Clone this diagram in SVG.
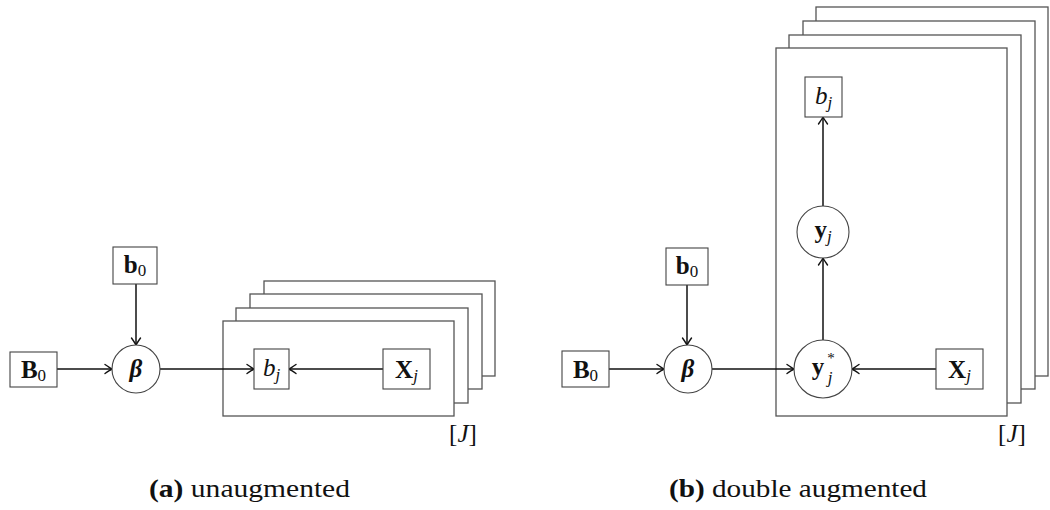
<svg xmlns="http://www.w3.org/2000/svg" width="1050" height="510" viewBox="0 0 1050 510">
<defs>
<marker id="arr" markerUnits="userSpaceOnUse" markerWidth="12" markerHeight="12" viewBox="-8 -6 10 12" refX="0" refY="0" orient="auto">
<path d="M-7,-4.5 Q-2,-1 0,0 Q-2,1 -7,4.5" fill="none" stroke="#111" stroke-width="1.4" stroke-linecap="round"/>
</marker>
</defs>
<style>
.plate{fill:#fff;stroke:#555;stroke-width:1.3}
.node{fill:#fff;stroke:#444;stroke-width:1.1}
.edge{stroke:#111;stroke-width:1.5;fill:none}
.m{font-family:"Liberation Serif","Times New Roman",serif;font-size:25px;fill:#111;text-anchor:middle}
.b{font-weight:bold}
.i{font-style:italic}
.sub{font-size:17px}
.sup{font-size:15px}
.cap{font-family:"Liberation Serif","Times New Roman",serif;font-size:25px;fill:#111}
</style>
<rect width="1050" height="510" fill="#fff"/>

<!-- Panel (a) plates -->
<g id="plate-a">
<rect class="plate" x="264" y="281" width="231" height="95"/>
<rect class="plate" x="250" y="294" width="232" height="95"/>
<rect class="plate" x="236" y="308" width="232" height="95"/>
<rect class="plate" x="223" y="321" width="231" height="95"/>
<text class="m" x="463" y="442"><tspan>[</tspan><tspan class="i">J</tspan><tspan>]</tspan></text>
</g>

<!-- Panel (b) plates -->
<g id="plate-b">
<rect class="plate" x="816" y="7" width="232" height="369"/>
<rect class="plate" x="803" y="21" width="232" height="368"/>
<rect class="plate" x="789" y="35" width="232" height="368"/>
<rect class="plate" x="776" y="48" width="231" height="368"/>
<text class="m" x="1012" y="442"><tspan>[</tspan><tspan class="i">J</tspan><tspan>]</tspan></text>
</g>

<g id="connectors">
<line class="edge" x1="57" y1="369" x2="112" y2="369" marker-end="url(#arr)"/>
<line class="edge" x1="136" y1="284" x2="136" y2="345" marker-end="url(#arr)"/>
<line class="edge" x1="160" y1="369" x2="254" y2="369" marker-end="url(#arr)"/>
<line class="edge" x1="383" y1="369" x2="289" y2="369" marker-end="url(#arr)"/>

<line class="edge" x1="609" y1="369" x2="664" y2="369" marker-end="url(#arr)"/>
<line class="edge" x1="687" y1="285" x2="687" y2="345" marker-end="url(#arr)"/>
<line class="edge" x1="712" y1="369" x2="794" y2="369" marker-end="url(#arr)"/>
<line class="edge" x1="936" y1="369" x2="852" y2="369" marker-end="url(#arr)"/>
<line class="edge" x1="823" y1="340" x2="823" y2="258" marker-end="url(#arr)"/>
<line class="edge" x1="823" y1="206" x2="823" y2="117" marker-end="url(#arr)"/>
</g>

<!-- Panel (a) nodes -->
<g id="a-B0">
<rect class="node" x="10" y="352" width="47" height="35"/>
<text class="m" x="33.5" y="378"><tspan class="b">B</tspan><tspan class="sub" dy="3">0</tspan></text>
</g>
<g id="a-b0">
<rect class="node" x="113" y="247" width="44" height="37"/>
<text class="m" x="135" y="273"><tspan class="b">b</tspan><tspan class="sub" dy="3">0</tspan></text>
</g>
<g id="a-beta">
<circle class="node" cx="136" cy="369" r="24"/>
<text class="m b i" x="136" y="377">β</text>
</g>
<g id="a-bj">
<rect class="node" x="254" y="349" width="35" height="40"/>
<text class="m" x="271.5" y="376"><tspan class="i">b</tspan><tspan class="sub i" dy="4">j</tspan></text>
</g>
<g id="a-Xj">
<rect class="node" x="383" y="349" width="47" height="40"/>
<text class="m" x="406.5" y="378"><tspan class="b">X</tspan><tspan class="sub i" dy="3">j</tspan></text>
</g>

<!-- Panel (b) nodes -->
<g id="b-B0">
<rect class="node" x="562" y="351" width="47" height="36"/>
<text class="m" x="585.5" y="378"><tspan class="b">B</tspan><tspan class="sub" dy="3">0</tspan></text>
</g>
<g id="b-b0">
<rect class="node" x="666" y="248" width="42" height="37"/>
<text class="m" x="687" y="274"><tspan class="b">b</tspan><tspan class="sub" dy="3">0</tspan></text>
</g>
<g id="b-beta">
<circle class="node" cx="688" cy="369" r="24"/>
<text class="m b i" x="688" y="377">β</text>
</g>
<g id="b-ystar">
<circle class="node" cx="823" cy="369" r="29"/>
<text class="m b" x="818" y="375">y</text>
<text class="m sup" x="831" y="363">*</text>
<text class="m sub i" x="830" y="383">j</text>
</g>
<g id="b-Xj">
<rect class="node" x="936" y="349" width="47" height="40"/>
<text class="m" x="959.5" y="378"><tspan class="b">X</tspan><tspan class="sub i" dy="3">j</tspan></text>
</g>
<g id="b-yj">
<circle class="node" cx="823" cy="232" r="26"/>
<text class="m" x="823" y="238"><tspan class="b">y</tspan><tspan class="sub i" dy="4">j</tspan></text>
</g>
<g id="b-bj">
<rect class="node" x="805" y="77" width="37" height="40"/>
<text class="m" x="823.5" y="104"><tspan class="i">b</tspan><tspan class="sub i" dy="4">j</tspan></text>
</g>

<!-- Captions -->
<text class="cap" x="149" y="497" textLength="201" lengthAdjust="spacingAndGlyphs"><tspan font-weight="bold">(a)</tspan> unaugmented</text>
<text class="cap" x="669" y="497" textLength="258" lengthAdjust="spacingAndGlyphs"><tspan font-weight="bold">(b)</tspan> double augmented</text>
</svg>
